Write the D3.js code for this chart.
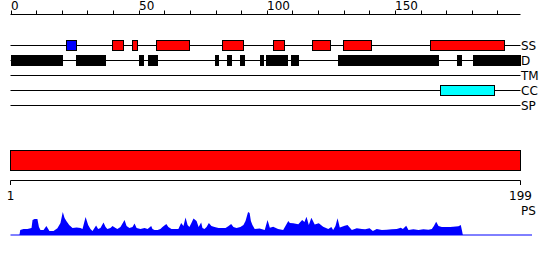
<!DOCTYPE html>
<html>
<head>
<meta charset="utf-8">
<script src="https://cdn.jsdelivr.net/npm/d3@7"></script>
<style>
  body { margin: 0; background: #fff; }
  svg { display: block; font-family: "DejaVu Sans", sans-serif; }
</style>
</head>
<body>
<div id="chart"></div>
<script>
// Données (positions en résidus, 0..199)
const trackNames = ['SS', 'D', 'TM', 'CC', 'SP'];

const helixBoxes = [
    [39.5, 43.6], [47.6, 49.7], [56.7, 69.7], [82.5, 90.8],
    [102.4, 106.6], [117.6, 124.7], [129.7, 140.7], [163.6, 192.6]
];
const strandBoxes = [[21.6, 25.6]];

const disorderBoxes = [
    [0, 19.8], [25.4, 36.7], [50.3, 51.9], [53.5, 56.9], [79.6, 80.8],
    [84.3, 85.8], [89.4, 90.9], [97.5, 98.7], [99.5, 107.6], [109.3, 111.9],
    [127.6, 166.5], [174.3, 176], [180.3, 198.5]
];
const coilBoxes = [[167.5, 188.7]];

const psBar = [0, 199];
const psTicks = [1, 199];
const topTicks = d3.range(0, 200, 10);
const topLabels = [0, 50, 100, 150];

// Profil (position, valeur)
const profilePos = [
    0, 3.5, 3.8, 5.1, 6.6, 8.2, 8.6, 9.4, 10.5, 11.1, 11.7, 12.9, 14.0, 15.2, 16.8, 18.3, 19.5,
    20.4, 21.1, 21.8, 22.9, 24.2, 25.8, 27.3, 28.1, 28.7, 29.3, 30.3, 31.2, 32.0, 33.4, 34.2,
    35.1, 36.3, 37.1, 37.8, 39.0, 39.8, 41.0, 41.7, 42.9, 44.5, 45.3, 46.4, 47.6, 48.4, 49.2,
    50.7, 52.3, 53.5, 54.9, 55.4, 56.2, 57.4, 58.5, 59.3, 60.8, 61.6, 62.8, 64.4, 65.5, 66.6,
    67.5, 68.3, 69.1, 69.8, 70.6, 71.4, 72.6, 73.4, 74.4, 74.9, 75.7, 76.5, 77.4, 78.4, 79.6,
    81.2, 82.7, 83.9, 85.1, 86.1, 87.0, 88.2, 89.7, 90.9, 91.7, 92.7, 93.3, 93.8, 94.4, 95.3,
    97.2, 99.2, 100.3, 101.2, 102.5, 104.4, 106.4, 108.4, 109.0, 110.3, 112.3, 113.8, 114.7,
    115.5, 116.4, 117.4, 118.7, 120.3, 122.0, 124.0, 125.2, 125.9, 126.8, 127.6, 128.5, 130.4,
    131.5, 133.2, 135.1, 137.1, 138.4, 140.1, 141.4, 142.9, 144.9, 146.8, 148.8, 150.7, 152.3,
    153.1, 154.4, 155.3, 157.2, 159.2, 161.1, 163.1, 164.4, 165.2, 166.1, 167.0, 168.3, 171.6,
    174.8, 175.7, 176.2, 176.5
];
const profileVal = [
    0, 0, 5, 6, 6, 7, 15, 16, 16, 8, 5, 5, 9, 4, 4, 6.7, 12,
    23, 17, 14, 10, 7, 7.5, 7, 6, 12, 18, 10, 6, 4, 9.5, 6,
    7, 12.5, 8, 6, 7, 9, 7, 6, 8, 15, 9, 7, 8, 11.5, 7,
    6, 7, 6, 9, 6, 5, 5, 6, 8, 11, 8, 6, 6, 6, 12,
    9, 17.5, 10, 8, 12, 16.5, 14, 8, 12.5, 7, 6, 8, 12, 9, 8,
    7, 7, 7, 9, 11, 8, 7, 8, 10, 14, 23, 22, 14, 10, 6,
    6.5, 5, 15, 7.3, 8.3, 6, 5, 14, 12, 11.7, 10.7, 15, 13,
    18.3, 10, 17.3, 10.5, 11.7, 8.3, 6, 8, 5, 9, 16.7, 7.5, 9.3,
    10, 5, 6.7, 6, 5.7, 6.7, 4, 6, 5, 5.3, 5.7, 6, 7.3,
    6, 9.3, 5, 5.7, 5, 5.7, 5.3, 6, 9, 13.3, 9, 8, 8,
    8.7, 10, 4, 0
];

const width = 550, height = 260;
const trackY0 = 45.5, trackStep = 15;

const svg = d3.select('#chart').append('svg')
    .attr('width', width)
    .attr('height', height);

const x = d3.scaleLinear().domain([0, 199]).range([10.5, 520.5]);
const yProfile = d3.scaleLinear().domain([0, 25]).range([235, 210]);

// Axe du haut
svg.append('line')
    .attr('x1', x(0)).attr('x2', x(199))
    .attr('y1', 14.5).attr('y2', 14.5)
    .attr('stroke', '#000');

svg.selectAll('.top-tick')
    .data(topTicks)
    .enter()
    .append('line')
    .attr('x1', d => Math.round(x(d)) + 0.5)
    .attr('x2', d => Math.round(x(d)) + 0.5)
    .attr('y1', 10.5).attr('y2', 14.5)
    .attr('stroke', '#000');

svg.selectAll('.top-label')
    .data(topLabels)
    .enter()
    .append('text')
    .attr('x', d => Math.round(x(d)))
    .attr('y', 9.5)
    .style('font-size', '12px')
    .text(d => d);

// Pistes
trackNames.forEach((name, i) => {
    const y = trackY0 + i * trackStep;
    svg.append('line')
        .attr('x1', x(0)).attr('x2', x(199))
        .attr('y1', y).attr('y2', y)
        .attr('stroke', '#000');
    svg.append('text')
        .attr('x', 521)
        .attr('y', y + 4.5)
        .style('font-size', '12px')
        .text(name);
});

function drawBoxes(boxes, trackIndex, fill, stroke) {
    const y = trackY0 + trackIndex * trackStep;
    svg.append('g')
        .selectAll('rect')
        .data(boxes)
        .enter()
        .append('rect')
        .attr('x', d => Math.round(x(d[0])) + 0.5)
        .attr('y', y - 5)
        .attr('width', d => Math.max(2, Math.round(x(d[1]) - x(d[0]))))
        .attr('height', 10)
        .attr('fill', fill)
        .attr('stroke', stroke)
        .attr('shape-rendering', 'crispEdges');
}

drawBoxes(helixBoxes, 0, '#ff0000', '#000');
drawBoxes(strandBoxes, 0, '#0000ff', '#000');
drawBoxes(disorderBoxes, 1, '#000', '#000');
drawBoxes(coilBoxes, 3, '#00ffff', '#000');

// Barre PS
svg.append('rect')
    .attr('x', x(psBar[0]))
    .attr('y', 150.5)
    .attr('width', x(psBar[1]) - x(psBar[0]))
    .attr('height', 20)
    .attr('fill', '#ff0000')
    .attr('stroke', '#000');

// Axe du bas
svg.append('line')
    .attr('x1', x(0)).attr('x2', x(199))
    .attr('y1', 180.5).attr('y2', 180.5)
    .attr('stroke', '#000');

svg.selectAll('.ps-tick')
    .data(psTicks)
    .enter()
    .append('line')
    .attr('x1', (d, i) => i === 0 ? x(0) : x(199))
    .attr('x2', (d, i) => i === 0 ? x(0) : x(199))
    .attr('y1', 180.5).attr('y2', 185)
    .attr('stroke', '#000');

svg.selectAll('.ps-label')
    .data(psTicks)
    .enter()
    .append('text')
    .attr('x', (d, i) => i === 0 ? x(0) : x(199))
    .attr('y', 200)
    .attr('text-anchor', 'middle')
    .style('font-size', '12px')
    .text(d => d);

svg.append('text')
    .attr('x', 521)
    .attr('y', 215)
    .style('font-size', '12px')
    .text('PS');

// Profil
const profile = profilePos.map((p, i) => ({ pos: p, val: profileVal[i] }));

svg.append('path')
    .datum(profile)
    .attr('fill', '#0000ff')
    .attr('d', d3.area()
        .x(d => x(d.pos))
        .y0(yProfile(0))
        .y1(d => yProfile(d.val)));

svg.append('line')
    .attr('x1', x(0)).attr('x2', 532)
    .attr('y1', 235).attr('y2', 235)
    .attr('stroke', '#0000ff');
</script>
</body>
</html>
